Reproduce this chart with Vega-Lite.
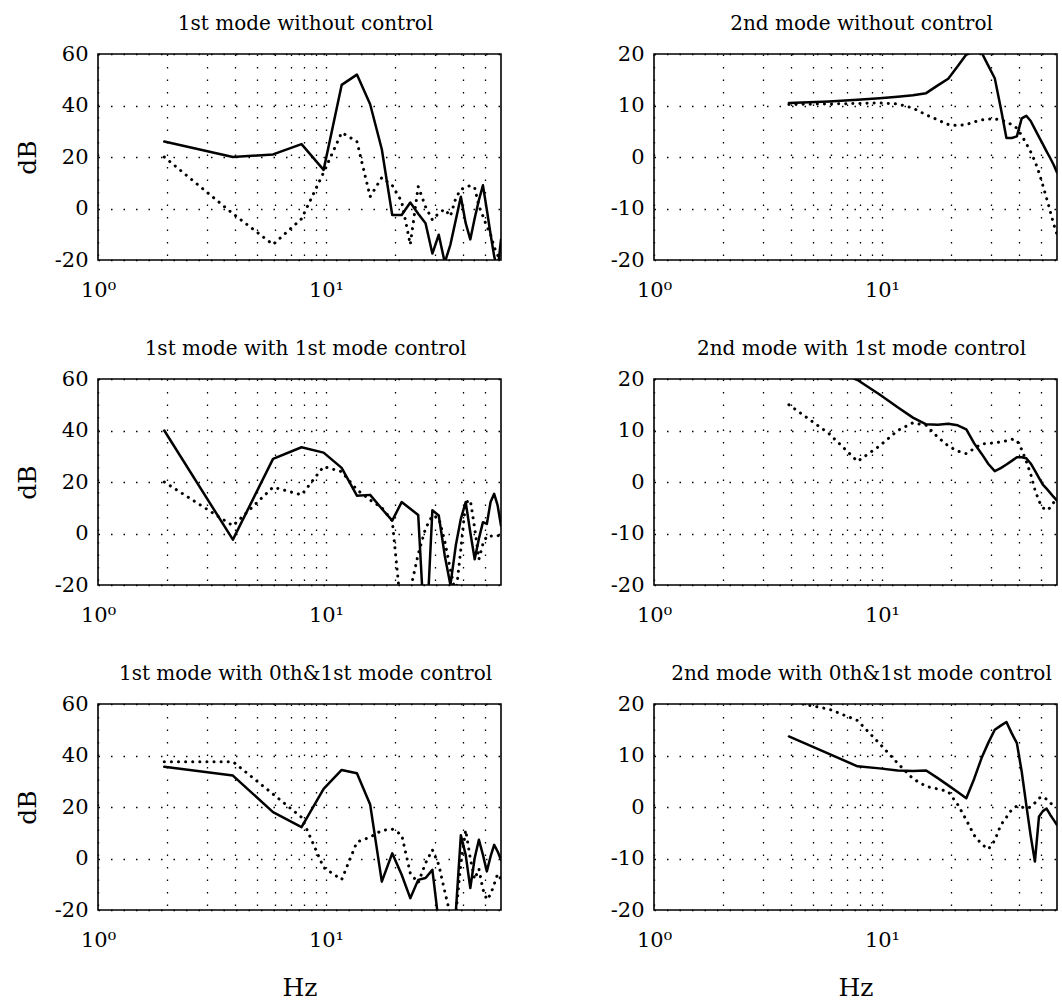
{
"$schema": "https://vega.github.io/schema/vega-lite/v6.json",
"background": "white",
"padding": {"left": 14, "top": 13, "right": 0, "bottom": 0},
"datasets": {"d": [
{"p":1,"s":"a","f":1.953,"v":26},{"p":1,"s":"a","f":3.906,"v":20},{"p":1,"s":"a","f":5.859,"v":21},{"p":1,"s":"a","f":7.813,"v":25},{"p":1,"s":"a","f":9.766,"v":15},{"p":1,"s":"a","f":11.719,"v":48},{"p":1,"s":"a","f":13.672,"v":52},{"p":1,"s":"a","f":15.625,"v":40.5},{"p":1,"s":"a","f":17.578,"v":23},{"p":1,"s":"a","f":19.531,"v":-2.5},{"p":1,"s":"a","f":21.484,"v":-2.5},{"p":1,"s":"a","f":23.438,"v":2.3},{"p":1,"s":"a","f":25.391,"v":-2},{"p":1,"s":"a","f":27.344,"v":-5.7},{"p":1,"s":"a","f":29.297,"v":-17.5},{"p":1,"s":"a","f":31.25,"v":-10.2},{"p":1,"s":"a","f":33.203,"v":-21},{"p":1,"s":"a","f":35.156,"v":-14},{"p":1,"s":"a","f":37.109,"v":-4.5},{"p":1,"s":"a","f":39.063,"v":4.6},{"p":1,"s":"a","f":41.016,"v":-5.7},{"p":1,"s":"a","f":42.969,"v":-12},{"p":1,"s":"a","f":44.922,"v":-3.8},{"p":1,"s":"a","f":46.875,"v":3.3},{"p":1,"s":"a","f":48.828,"v":9},{"p":1,"s":"a","f":50.781,"v":-0.5},{"p":1,"s":"a","f":52.734,"v":-10},{"p":1,"s":"a","f":54.688,"v":-18.5},{"p":1,"s":"a","f":56.641,"v":-24},{"p":1,"s":"a","f":58.594,"v":-12},
{"p":1,"s":"b","f":1.953,"v":20},{"p":1,"s":"b","f":3.906,"v":-2},{"p":1,"s":"b","f":5.859,"v":-14},{"p":1,"s":"b","f":7.813,"v":-4},{"p":1,"s":"b","f":9.766,"v":14},{"p":1,"s":"b","f":11.719,"v":29.5},{"p":1,"s":"b","f":13.672,"v":26},{"p":1,"s":"b","f":15.625,"v":4.6},{"p":1,"s":"b","f":17.578,"v":12},{"p":1,"s":"b","f":19.531,"v":9},{"p":1,"s":"b","f":21.484,"v":2.7},{"p":1,"s":"b","f":23.438,"v":-14},{"p":1,"s":"b","f":25.391,"v":8.5},{"p":1,"s":"b","f":27.344,"v":0.7},{"p":1,"s":"b","f":29.297,"v":-4.4},{"p":1,"s":"b","f":31.25,"v":-1.8},{"p":1,"s":"b","f":33.203,"v":-0.3},{"p":1,"s":"b","f":35.156,"v":-3},{"p":1,"s":"b","f":37.109,"v":4},{"p":1,"s":"b","f":39.063,"v":7.5},{"p":1,"s":"b","f":41.016,"v":8},{"p":1,"s":"b","f":42.969,"v":9},{"p":1,"s":"b","f":44.922,"v":8},{"p":1,"s":"b","f":46.875,"v":1},{"p":1,"s":"b","f":48.828,"v":-3},{"p":1,"s":"b","f":50.781,"v":-7},{"p":1,"s":"b","f":52.734,"v":-10},{"p":1,"s":"b","f":54.688,"v":-15},{"p":1,"s":"b","f":56.641,"v":-18},{"p":1,"s":"b","f":58.594,"v":-22},
{"p":2,"s":"a","f":3.906,"v":10.5},{"p":2,"s":"a","f":5.859,"v":10.8},{"p":2,"s":"a","f":7.813,"v":11.1},{"p":2,"s":"a","f":9.766,"v":11.4},{"p":2,"s":"a","f":11.719,"v":11.7},{"p":2,"s":"a","f":13.672,"v":12},{"p":2,"s":"a","f":15.625,"v":12.4},{"p":2,"s":"a","f":17.578,"v":13.9},{"p":2,"s":"a","f":19.531,"v":15.2},{"p":2,"s":"a","f":21.484,"v":17.6},{"p":2,"s":"a","f":23.438,"v":19.9},{"p":2,"s":"a","f":25.391,"v":20.5},{"p":2,"s":"a","f":27.344,"v":20.3},{"p":2,"s":"a","f":29.297,"v":17.7},{"p":2,"s":"a","f":31.25,"v":15.3},{"p":2,"s":"a","f":33.203,"v":9.5},{"p":2,"s":"a","f":35.156,"v":3.7},{"p":2,"s":"a","f":37.109,"v":3.7},{"p":2,"s":"a","f":39.063,"v":4},{"p":2,"s":"a","f":41.016,"v":7.5},{"p":2,"s":"a","f":42.969,"v":8},{"p":2,"s":"a","f":44.922,"v":7},{"p":2,"s":"a","f":46.875,"v":5.4},{"p":2,"s":"a","f":48.828,"v":3.9},{"p":2,"s":"a","f":50.781,"v":2.5},{"p":2,"s":"a","f":52.734,"v":1.1},{"p":2,"s":"a","f":54.688,"v":-0.2},{"p":2,"s":"a","f":56.641,"v":-1.5},{"p":2,"s":"a","f":58.594,"v":-3},
{"p":2,"s":"b","f":3.906,"v":10.2},{"p":2,"s":"b","f":5.859,"v":10.3},{"p":2,"s":"b","f":7.813,"v":10.4},{"p":2,"s":"b","f":9.766,"v":10.5},{"p":2,"s":"b","f":11.719,"v":10.3},{"p":2,"s":"b","f":13.672,"v":9.5},{"p":2,"s":"b","f":15.625,"v":8.2},{"p":2,"s":"b","f":17.578,"v":7.2},{"p":2,"s":"b","f":19.531,"v":6.3},{"p":2,"s":"b","f":21.484,"v":6.1},{"p":2,"s":"b","f":23.438,"v":6.3},{"p":2,"s":"b","f":25.391,"v":6.8},{"p":2,"s":"b","f":27.344,"v":7.2},{"p":2,"s":"b","f":29.297,"v":7.4},{"p":2,"s":"b","f":31.25,"v":7.4},{"p":2,"s":"b","f":33.203,"v":7.2},{"p":2,"s":"b","f":35.156,"v":6.8},{"p":2,"s":"b","f":37.109,"v":6.3},{"p":2,"s":"b","f":39.063,"v":5.6},{"p":2,"s":"b","f":41.016,"v":4.2},{"p":2,"s":"b","f":42.969,"v":2.6},{"p":2,"s":"b","f":44.922,"v":1},{"p":2,"s":"b","f":46.875,"v":-0.8},{"p":2,"s":"b","f":48.828,"v":-3},{"p":2,"s":"b","f":50.781,"v":-5.5},{"p":2,"s":"b","f":52.734,"v":-8},{"p":2,"s":"b","f":54.688,"v":-10.5},{"p":2,"s":"b","f":56.641,"v":-13},{"p":2,"s":"b","f":58.594,"v":-15},
{"p":3,"s":"a","f":1.953,"v":40},{"p":3,"s":"a","f":3.906,"v":-2.4},{"p":3,"s":"a","f":5.859,"v":29},{"p":3,"s":"a","f":7.813,"v":33.5},{"p":3,"s":"a","f":9.766,"v":31.4},{"p":3,"s":"a","f":11.719,"v":25.5},{"p":3,"s":"a","f":13.672,"v":14.7},{"p":3,"s":"a","f":15.625,"v":15},{"p":3,"s":"a","f":17.578,"v":9.6},{"p":3,"s":"a","f":19.531,"v":5},{"p":3,"s":"a","f":21.484,"v":12.2},{"p":3,"s":"a","f":23.438,"v":9.6},{"p":3,"s":"a","f":25.391,"v":7.2},{"p":3,"s":"a","f":27.344,"v":-45},{"p":3,"s":"a","f":29.297,"v":9},{"p":3,"s":"a","f":31.25,"v":7},{"p":3,"s":"a","f":33.203,"v":-8.6},{"p":3,"s":"a","f":35.156,"v":-20},{"p":3,"s":"a","f":37.109,"v":-4.7},{"p":3,"s":"a","f":39.063,"v":5.7},{"p":3,"s":"a","f":41.016,"v":12.2},{"p":3,"s":"a","f":42.969,"v":0.5},{"p":3,"s":"a","f":44.922,"v":-10},{"p":3,"s":"a","f":46.875,"v":-2},{"p":3,"s":"a","f":48.828,"v":4.4},{"p":3,"s":"a","f":50.781,"v":3.7},{"p":3,"s":"a","f":52.734,"v":12.2},{"p":3,"s":"a","f":54.688,"v":15.4},{"p":3,"s":"a","f":56.641,"v":10.9},{"p":3,"s":"a","f":58.594,"v":3},
{"p":3,"s":"b","f":1.953,"v":20},{"p":3,"s":"b","f":3.906,"v":3},{"p":3,"s":"b","f":5.859,"v":18},{"p":3,"s":"b","f":7.813,"v":15},{"p":3,"s":"b","f":9.766,"v":26},{"p":3,"s":"b","f":11.719,"v":24},{"p":3,"s":"b","f":13.672,"v":17},{"p":3,"s":"b","f":15.625,"v":13},{"p":3,"s":"b","f":17.578,"v":10},{"p":3,"s":"b","f":19.531,"v":5},{"p":3,"s":"b","f":21.484,"v":-32},{"p":3,"s":"b","f":23.438,"v":-22},{"p":3,"s":"b","f":25.391,"v":-8},{"p":3,"s":"b","f":27.344,"v":2},{"p":3,"s":"b","f":29.297,"v":7},{"p":3,"s":"b","f":31.25,"v":6},{"p":3,"s":"b","f":33.203,"v":-3},{"p":3,"s":"b","f":35.156,"v":-14},{"p":3,"s":"b","f":37.109,"v":-24},{"p":3,"s":"b","f":39.063,"v":-6},{"p":3,"s":"b","f":41.016,"v":12},{"p":3,"s":"b","f":42.969,"v":13},{"p":3,"s":"b","f":44.922,"v":2},{"p":3,"s":"b","f":46.875,"v":-10},{"p":3,"s":"b","f":48.828,"v":-4},{"p":3,"s":"b","f":50.781,"v":-1},{"p":3,"s":"b","f":52.734,"v":-1},{"p":3,"s":"b","f":54.688,"v":-1},{"p":3,"s":"b","f":56.641,"v":-1},{"p":3,"s":"b","f":58.594,"v":0},
{"p":4,"s":"a","f":3.906,"v":26},{"p":4,"s":"a","f":5.859,"v":22.5},{"p":4,"s":"a","f":7.813,"v":19.8},{"p":4,"s":"a","f":9.766,"v":17},{"p":4,"s":"a","f":11.719,"v":14.5},{"p":4,"s":"a","f":13.672,"v":12.5},{"p":4,"s":"a","f":15.625,"v":11.2},{"p":4,"s":"a","f":17.578,"v":11.1},{"p":4,"s":"a","f":19.531,"v":11.3},{"p":4,"s":"a","f":21.484,"v":11},{"p":4,"s":"a","f":23.438,"v":10.2},{"p":4,"s":"a","f":25.391,"v":7.5},{"p":4,"s":"a","f":27.344,"v":5.5},{"p":4,"s":"a","f":29.297,"v":3.5},{"p":4,"s":"a","f":31.25,"v":2.1},{"p":4,"s":"a","f":33.203,"v":2.7},{"p":4,"s":"a","f":35.156,"v":3.4},{"p":4,"s":"a","f":37.109,"v":4.1},{"p":4,"s":"a","f":39.063,"v":4.8},{"p":4,"s":"a","f":41.016,"v":4.8},{"p":4,"s":"a","f":42.969,"v":4.6},{"p":4,"s":"a","f":44.922,"v":3.6},{"p":4,"s":"a","f":46.875,"v":2.2},{"p":4,"s":"a","f":48.828,"v":0.8},{"p":4,"s":"a","f":50.781,"v":-0.5},{"p":4,"s":"a","f":52.734,"v":-1.3},{"p":4,"s":"a","f":54.688,"v":-2.1},{"p":4,"s":"a","f":56.641,"v":-2.9},{"p":4,"s":"a","f":58.594,"v":-3.6},
{"p":4,"s":"b","f":3.906,"v":15},{"p":4,"s":"b","f":5.859,"v":9.4},{"p":4,"s":"b","f":7.813,"v":4},{"p":4,"s":"b","f":9.766,"v":7},{"p":4,"s":"b","f":11.719,"v":10},{"p":4,"s":"b","f":13.672,"v":11.5},{"p":4,"s":"b","f":15.625,"v":11},{"p":4,"s":"b","f":17.578,"v":8.7},{"p":4,"s":"b","f":19.531,"v":7},{"p":4,"s":"b","f":21.484,"v":6},{"p":4,"s":"b","f":23.438,"v":5.5},{"p":4,"s":"b","f":25.391,"v":6.5},{"p":4,"s":"b","f":27.344,"v":7.4},{"p":4,"s":"b","f":29.297,"v":7.5},{"p":4,"s":"b","f":31.25,"v":7.6},{"p":4,"s":"b","f":33.203,"v":7.8},{"p":4,"s":"b","f":35.156,"v":8},{"p":4,"s":"b","f":37.109,"v":8.3},{"p":4,"s":"b","f":39.063,"v":8.1},{"p":4,"s":"b","f":41.016,"v":6.3},{"p":4,"s":"b","f":42.969,"v":4},{"p":4,"s":"b","f":44.922,"v":1.5},{"p":4,"s":"b","f":46.875,"v":-1.5},{"p":4,"s":"b","f":48.828,"v":-3.7},{"p":4,"s":"b","f":50.781,"v":-5},{"p":4,"s":"b","f":52.734,"v":-5.5},{"p":4,"s":"b","f":54.688,"v":-5},{"p":4,"s":"b","f":56.641,"v":-4},{"p":4,"s":"b","f":58.594,"v":-3},
{"p":5,"s":"a","f":1.953,"v":35.6},{"p":5,"s":"a","f":3.906,"v":32.2},{"p":5,"s":"a","f":5.859,"v":18},{"p":5,"s":"a","f":7.813,"v":12.2},{"p":5,"s":"a","f":9.766,"v":27},{"p":5,"s":"a","f":11.719,"v":34.4},{"p":5,"s":"a","f":13.672,"v":33.1},{"p":5,"s":"a","f":15.625,"v":21},{"p":5,"s":"a","f":17.578,"v":-9},{"p":5,"s":"a","f":19.531,"v":2},{"p":5,"s":"a","f":21.484,"v":-6.3},{"p":5,"s":"a","f":23.438,"v":-15.4},{"p":5,"s":"a","f":25.391,"v":-8.3},{"p":5,"s":"a","f":27.344,"v":-7.6},{"p":5,"s":"a","f":29.297,"v":-4.4},{"p":5,"s":"a","f":31.25,"v":-25},{"p":5,"s":"a","f":33.203,"v":-32},{"p":5,"s":"a","f":35.156,"v":-28},{"p":5,"s":"a","f":37.109,"v":-21},{"p":5,"s":"a","f":39.063,"v":9},{"p":5,"s":"a","f":41.016,"v":1.4},{"p":5,"s":"a","f":42.969,"v":-11.5},{"p":5,"s":"a","f":44.922,"v":0.2},{"p":5,"s":"a","f":46.875,"v":7.3},{"p":5,"s":"a","f":48.828,"v":1.4},{"p":5,"s":"a","f":50.781,"v":-5},{"p":5,"s":"a","f":52.734,"v":0.8},{"p":5,"s":"a","f":54.688,"v":5.3},{"p":5,"s":"a","f":56.641,"v":2.7},{"p":5,"s":"a","f":58.594,"v":-0.5},
{"p":5,"s":"b","f":1.953,"v":37.6},{"p":5,"s":"b","f":3.906,"v":37.6},{"p":5,"s":"b","f":5.859,"v":25},{"p":5,"s":"b","f":7.813,"v":16},{"p":5,"s":"b","f":9.766,"v":-3.5},{"p":5,"s":"b","f":11.719,"v":-8.2},{"p":5,"s":"b","f":13.672,"v":6.4},{"p":5,"s":"b","f":15.625,"v":8.3},{"p":5,"s":"b","f":17.578,"v":10.9},{"p":5,"s":"b","f":19.531,"v":11.4},{"p":5,"s":"b","f":21.484,"v":9.2},{"p":5,"s":"b","f":23.438,"v":-5.7},{"p":5,"s":"b","f":25.391,"v":-9.5},{"p":5,"s":"b","f":27.344,"v":-1.8},{"p":5,"s":"b","f":29.297,"v":3.4},{"p":5,"s":"b","f":31.25,"v":-2.4},{"p":5,"s":"b","f":33.203,"v":-12.8},{"p":5,"s":"b","f":35.156,"v":-22},{"p":5,"s":"b","f":37.109,"v":-22},{"p":5,"s":"b","f":39.063,"v":-2},{"p":5,"s":"b","f":41.016,"v":11},{"p":5,"s":"b","f":42.969,"v":0},{"p":5,"s":"b","f":44.922,"v":-8},{"p":5,"s":"b","f":46.875,"v":-4},{"p":5,"s":"b","f":48.828,"v":-12},{"p":5,"s":"b","f":50.781,"v":-16},{"p":5,"s":"b","f":52.734,"v":-14},{"p":5,"s":"b","f":54.688,"v":-10},{"p":5,"s":"b","f":56.641,"v":-6},{"p":5,"s":"b","f":58.594,"v":-8},
{"p":6,"s":"a","f":3.906,"v":13.7},{"p":6,"s":"a","f":5.859,"v":10.3},{"p":6,"s":"a","f":7.813,"v":7.9},{"p":6,"s":"a","f":9.766,"v":7.5},{"p":6,"s":"a","f":11.719,"v":7.1},{"p":6,"s":"a","f":13.672,"v":7},{"p":6,"s":"a","f":15.625,"v":7.1},{"p":6,"s":"a","f":17.578,"v":5.6},{"p":6,"s":"a","f":19.531,"v":4.2},{"p":6,"s":"a","f":21.484,"v":2.9},{"p":6,"s":"a","f":23.438,"v":1.7},{"p":6,"s":"a","f":25.391,"v":5.5},{"p":6,"s":"a","f":27.344,"v":9.5},{"p":6,"s":"a","f":29.297,"v":12.5},{"p":6,"s":"a","f":31.25,"v":15},{"p":6,"s":"a","f":33.203,"v":15.8},{"p":6,"s":"a","f":35.156,"v":16.5},{"p":6,"s":"a","f":37.109,"v":14.3},{"p":6,"s":"a","f":39.063,"v":12.4},{"p":6,"s":"a","f":41.016,"v":6.9},{"p":6,"s":"a","f":42.969,"v":0.4},{"p":6,"s":"a","f":44.922,"v":-5.6},{"p":6,"s":"a","f":46.875,"v":-10.6},{"p":6,"s":"a","f":48.828,"v":-1.9},{"p":6,"s":"a","f":50.781,"v":-0.8},{"p":6,"s":"a","f":52.734,"v":-0.3},{"p":6,"s":"a","f":54.688,"v":-1.5},{"p":6,"s":"a","f":56.641,"v":-2.5},{"p":6,"s":"a","f":58.594,"v":-3.5},
{"p":6,"s":"b","f":3.906,"v":20.5},{"p":6,"s":"b","f":5.859,"v":19},{"p":6,"s":"b","f":7.813,"v":16.8},{"p":6,"s":"b","f":9.766,"v":12.3},{"p":6,"s":"b","f":11.719,"v":8.5},{"p":6,"s":"b","f":13.672,"v":5.5},{"p":6,"s":"b","f":15.625,"v":4},{"p":6,"s":"b","f":17.578,"v":3.5},{"p":6,"s":"b","f":19.531,"v":3},{"p":6,"s":"b","f":21.484,"v":0.5},{"p":6,"s":"b","f":23.438,"v":-2.5},{"p":6,"s":"b","f":25.391,"v":-5.5},{"p":6,"s":"b","f":27.344,"v":-7.2},{"p":6,"s":"b","f":29.297,"v":-8.2},{"p":6,"s":"b","f":31.25,"v":-6.5},{"p":6,"s":"b","f":33.203,"v":-3.5},{"p":6,"s":"b","f":35.156,"v":-2},{"p":6,"s":"b","f":37.109,"v":-0.5},{"p":6,"s":"b","f":39.063,"v":0.2},{"p":6,"s":"b","f":41.016,"v":0},{"p":6,"s":"b","f":42.969,"v":-0.3},{"p":6,"s":"b","f":44.922,"v":0},{"p":6,"s":"b","f":46.875,"v":0.8},{"p":6,"s":"b","f":48.828,"v":1.7},{"p":6,"s":"b","f":50.781,"v":2},{"p":6,"s":"b","f":52.734,"v":1.5},{"p":6,"s":"b","f":54.688,"v":0.8},{"p":6,"s":"b","f":56.641,"v":0.3},{"p":6,"s":"b","f":58.594,"v":0}
]},
"spacing": 37,
"vconcat": [
{"hconcat": [
{"width": 403, "height": 206, "title": "1st mode without control", "data": {"name": "d"}, "transform": [{"filter": "datum.p == 1"}],
 "encoding": {"x": {"field": "f", "type": "quantitative", "scale": {"type": "log", "domain": [1, 58.594], "nice": false}, "axis": {"values": [1,2,3,4,5,6,7,8,9,10,20,30,40,50], "labelExpr": "datum.value == 1 ? '10⁰' : (datum.value == 10 ? '10¹' : '')", "title": null}},
  "y": {"field": "v", "type": "quantitative", "scale": {"domain": [-20, 60], "nice": false, "zero": false}, "axis": {"values": [-20,0,20,40,60], "labelExpr": "datum.value + ''", "title": "dB"}}},
 "layer": [{"transform": [{"filter": "datum.s == 'a'"}], "mark": {"type": "line", "clip": true}}, {"transform": [{"filter": "datum.s == 'b'"}], "mark": {"type": "line", "clip": true, "strokeDash": [0.1, 7], "strokeWidth": 3}}]},
{"width": 403, "height": 206, "title": "2nd mode without control", "data": {"name": "d"}, "transform": [{"filter": "datum.p == 2"}],
 "encoding": {"x": {"field": "f", "type": "quantitative", "scale": {"type": "log", "domain": [1, 58.594], "nice": false}, "axis": {"values": [1,2,3,4,5,6,7,8,9,10,20,30,40,50], "labelExpr": "datum.value == 1 ? '10⁰' : (datum.value == 10 ? '10¹' : '')", "title": null}},
  "y": {"field": "v", "type": "quantitative", "scale": {"domain": [-20, 20], "nice": false, "zero": false}, "axis": {"values": [-20,-10,0,10,20], "labelExpr": "datum.value + ''", "title": null}}},
 "layer": [{"transform": [{"filter": "datum.s == 'a'"}], "mark": {"type": "line", "clip": true}}, {"transform": [{"filter": "datum.s == 'b'"}], "mark": {"type": "line", "clip": true, "strokeDash": [0.1, 7], "strokeWidth": 3}}]}
], "spacing": 107},
{"hconcat": [
{"width": 403, "height": 206, "title": "1st mode with 1st mode control", "data": {"name": "d"}, "transform": [{"filter": "datum.p == 3"}],
 "encoding": {"x": {"field": "f", "type": "quantitative", "scale": {"type": "log", "domain": [1, 58.594], "nice": false}, "axis": {"values": [1,2,3,4,5,6,7,8,9,10,20,30,40,50], "labelExpr": "datum.value == 1 ? '10⁰' : (datum.value == 10 ? '10¹' : '')", "title": null}},
  "y": {"field": "v", "type": "quantitative", "scale": {"domain": [-20, 60], "nice": false, "zero": false}, "axis": {"values": [-20,0,20,40,60], "labelExpr": "datum.value + ''", "title": "dB"}}},
 "layer": [{"transform": [{"filter": "datum.s == 'a'"}], "mark": {"type": "line", "clip": true}}, {"transform": [{"filter": "datum.s == 'b'"}], "mark": {"type": "line", "clip": true, "strokeDash": [0.1, 7], "strokeWidth": 3}}]},
{"width": 403, "height": 206, "title": "2nd mode with 1st mode control", "data": {"name": "d"}, "transform": [{"filter": "datum.p == 4"}],
 "encoding": {"x": {"field": "f", "type": "quantitative", "scale": {"type": "log", "domain": [1, 58.594], "nice": false}, "axis": {"values": [1,2,3,4,5,6,7,8,9,10,20,30,40,50], "labelExpr": "datum.value == 1 ? '10⁰' : (datum.value == 10 ? '10¹' : '')", "title": null}},
  "y": {"field": "v", "type": "quantitative", "scale": {"domain": [-20, 20], "nice": false, "zero": false}, "axis": {"values": [-20,-10,0,10,20], "labelExpr": "datum.value + ''", "title": null}}},
 "layer": [{"transform": [{"filter": "datum.s == 'a'"}], "mark": {"type": "line", "clip": true}}, {"transform": [{"filter": "datum.s == 'b'"}], "mark": {"type": "line", "clip": true, "strokeDash": [0.1, 7], "strokeWidth": 3}}]}
], "spacing": 107},
{"hconcat": [
{"width": 403, "height": 206, "title": "1st mode with 0th&1st mode control", "data": {"name": "d"}, "transform": [{"filter": "datum.p == 5"}],
 "encoding": {"x": {"field": "f", "type": "quantitative", "scale": {"type": "log", "domain": [1, 58.594], "nice": false}, "axis": {"values": [1,2,3,4,5,6,7,8,9,10,20,30,40,50], "labelExpr": "datum.value == 1 ? '10⁰' : (datum.value == 10 ? '10¹' : '')", "title": "Hz"}},
  "y": {"field": "v", "type": "quantitative", "scale": {"domain": [-20, 60], "nice": false, "zero": false}, "axis": {"values": [-20,0,20,40,60], "labelExpr": "datum.value + ''", "title": "dB"}}},
 "layer": [{"transform": [{"filter": "datum.s == 'a'"}], "mark": {"type": "line", "clip": true}}, {"transform": [{"filter": "datum.s == 'b'"}], "mark": {"type": "line", "clip": true, "strokeDash": [0.1, 7], "strokeWidth": 3}}]},
{"width": 403, "height": 206, "title": "2nd mode with 0th&1st mode control", "data": {"name": "d"}, "transform": [{"filter": "datum.p == 6"}],
 "encoding": {"x": {"field": "f", "type": "quantitative", "scale": {"type": "log", "domain": [1, 58.594], "nice": false}, "axis": {"values": [1,2,3,4,5,6,7,8,9,10,20,30,40,50], "labelExpr": "datum.value == 1 ? '10⁰' : (datum.value == 10 ? '10¹' : '')", "title": "Hz"}},
  "y": {"field": "v", "type": "quantitative", "scale": {"domain": [-20, 20], "nice": false, "zero": false}, "axis": {"values": [-20,-10,0,10,20], "labelExpr": "datum.value + ''", "title": null}}},
 "layer": [{"transform": [{"filter": "datum.s == 'a'"}], "mark": {"type": "line", "clip": true}}, {"transform": [{"filter": "datum.s == 'b'"}], "mark": {"type": "line", "clip": true, "strokeDash": [0.1, 7], "strokeWidth": 3}}]}
], "spacing": 107}
],
"config": {
 "view": {"stroke": "black", "strokeWidth": 1.6},
 "font": "DejaVu Serif",
 "axis": {"grid": true, "gridColor": "black", "gridDash": [1.5, 11], "gridWidth": 1.3, "gridOpacity": 1, "domain": false, "ticks": false, "labelFont": "DejaVu Serif", "labelFontSize": 21, "labelColor": "black", "labelPadding": 10, "titleFont": "DejaVu Serif", "titleFontSize": 25, "titleFontWeight": "normal", "titleColor": "black", "titlePadding": 14, "labelOverlap": false, "labelFlush": false, "labelBound": false},
 "axisX": {"titlePadding": 25, "labelPadding": 19},
 "title": {"font": "DejaVu Serif", "fontSize": 20, "fontWeight": "normal", "color": "black", "frame": "group", "anchor": "middle", "baseline": "alphabetic", "offset": 9, "dx": 6},
 "line": {"color": "black", "strokeWidth": 2.5, "strokeCap": "round", "strokeJoin": "round"}
}
}
